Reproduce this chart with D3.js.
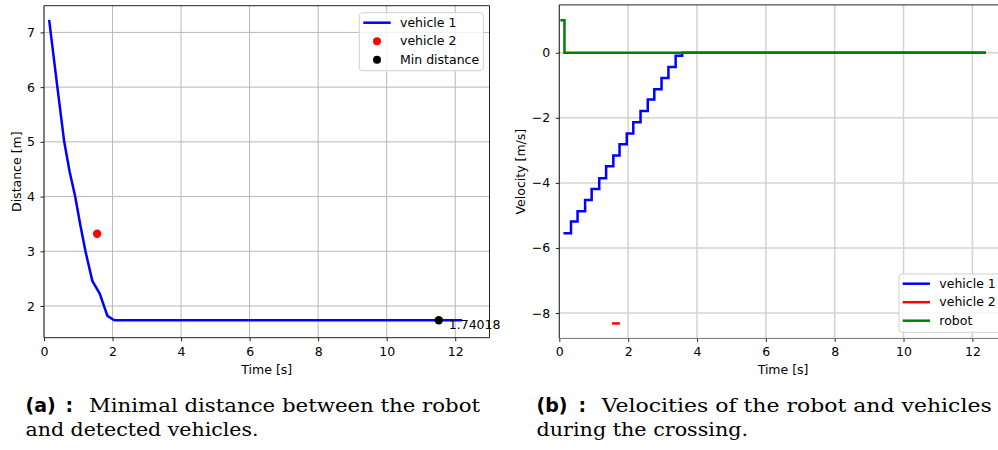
<!DOCTYPE html>
<html>
<head>
<meta charset="utf-8">
<script src="https://cdn.jsdelivr.net/npm/d3@7"></script>
<style>
  body { margin: 0; background: #fff; }
  svg { display: block; font-family: "DejaVu Sans", sans-serif; }
  text { fill: #000; }
</style>
</head>
<body>
<svg id="fig" width="998" height="450"></svg>
<script>
// ---- Panel (a): distance between the robot and detected vehicles ----
const distTime   = [0.15, 0.39, 0.59, 0.75, 0.91, 1.06, 1.21, 1.41, 1.63, 1.85, 2.05, 12.2];
const distMeters = [7.23, 6.00, 5.00, 4.45, 4.00, 3.48, 3.00, 2.46, 2.22, 1.82, 1.74, 1.74];
const vehicle2Point = [1.55, 3.32];          // [time s, distance m]
const minDistPoint  = [11.52, 1.74018];      // [time s, distance m]
const distXTicks = [0, 2, 4, 6, 8, 10, 12];
const distYTicks = [2, 3, 4, 5, 6, 7];
const distLegend = ["vehicle 1", "vehicle 2", "Min distance"];

// ---- Panel (b): velocities during the crossing ----
const v1Time  = [0.12, 0.34, 0.53, 0.75, 0.94, 1.16, 1.36, 1.57, 1.75, 1.96, 2.15, 2.36, 2.57, 2.76, 2.97, 3.17, 3.38, 3.57, 12.39];
const v1Speed = [-5.55, -5.19, -4.87, -4.53, -4.19, -3.86, -3.49, -3.16, -2.81, -2.48, -2.14, -1.79, -1.44, -1.12, -0.78, -0.44, -0.09, 0, 0];
const v2Time  = [1.53, 1.76];
const v2Speed = [-8.32, -8.32];
const robotTime  = [0.03, 0.15, 12.39];
const robotSpeed = [1.0, 0, 0];
const velXTicks = [0, 2, 4, 6, 8, 10, 12];
const velYTicks = [-8, -6, -4, -2, 0];
const velLegend = ["vehicle 1", "vehicle 2", "robot"];

const BLUE = "#0000ff", RED = "#ff0000", GREEN = "#008000";
const FS = 12.5;

const svg = d3.select("#fig");

function pairs(xs, ys) { return xs.map((t, i) => [t, ys[i]]); }

function drawFrame(g, x, y, xt, yt, cfg) {
  const [x0, x1] = x.range();
  const [yb, yt0] = y.range();
  // grid
  g.append("g").selectAll("line").data(xt).join("line")
    .attr("x1", d => x(d)).attr("x2", d => x(d))
    .attr("y1", yb).attr("y2", yt0)
    .attr("stroke", cfg.grid).attr("stroke-width", cfg.gridW);
  g.append("g").selectAll("line").data(yt).join("line")
    .attr("x1", x0).attr("x2", x1)
    .attr("y1", d => y(d)).attr("y2", d => y(d))
    .attr("stroke", cfg.grid).attr("stroke-width", cfg.gridW);

  const fmt = d3.format("d");
  const xa = g.append("g").attr("transform", `translate(0,${yb})`)
    .call(d3.axisBottom(x).tickValues(xt).tickFormat(fmt).tickSize(3.5).tickPadding(5.5));
  const ya = g.append("g").attr("transform", `translate(${x0},0)`)
    .call(d3.axisLeft(y).tickValues(yt).tickFormat(fmt).tickSize(3.5).tickPadding(5.5));
  [xa, ya].forEach(a => {
    a.attr("font-family", null).attr("font-size", null);
    a.select(".domain").remove();
    a.selectAll(".tick line").attr("stroke", "#222").attr("stroke-width", 1);
    a.selectAll(".tick text").attr("font-size", FS).attr("fill", "#000");
  });

  // spines
  g.append("line").attr("x1", x0).attr("x2", x0).attr("y1", yb).attr("y2", yt0).attr("stroke", "#222");
  g.append("line").attr("x1", x0).attr("x2", x1).attr("y1", yt0).attr("y2", yt0).attr("stroke", "#222");
  g.append("line").attr("x1", x0).attr("x2", x1).attr("y1", yb).attr("y2", yb).attr("stroke", cfg.bottomSpine);
  g.append("line").attr("x1", x1).attr("x2", x1).attr("y1", yb).attr("y2", yt0).attr("stroke", "#222");

  // axis labels
  g.append("text").attr("x", (x0 + x1) / 2).attr("y", 373.5)
    .attr("text-anchor", "middle").attr("font-size", FS).text(cfg.xLabel);
  g.append("text").attr("transform", `translate(${cfg.yLabelX},${(yb + yt0) / 2}) rotate(-90)`)
    .attr("text-anchor", "middle").attr("font-size", FS).text(cfg.yLabel);
}

function drawLegend(g, box, items) {
  g.append("rect").attr("x", box.x).attr("y", box.y).attr("width", box.w).attr("height", box.h)
    .attr("rx", 3).attr("fill", "#fff").attr("fill-opacity", 0.8)
    .attr("stroke", "#d0d0d0").attr("stroke-width", 1);
  const rows = g.append("g").selectAll("g").data(items).join("g")
    .attr("transform", (d, i) => `translate(0,${box.firstRow + i * box.step})`);
  rows.each(function (d) {
    const r = d3.select(this);
    if (d.kind === "line") {
      r.append("line").attr("x1", box.hx0).attr("x2", box.hx1).attr("y1", 0).attr("y2", 0)
        .attr("stroke", d.color).attr("stroke-width", 2.5);
    } else {
      r.append("circle").attr("cx", (box.hx0 + box.hx1) / 2).attr("cy", 0).attr("r", 4)
        .attr("fill", d.color);
    }
    r.append("text").attr("x", box.tx).attr("y", 0).attr("dy", "0.34em")
      .attr("font-size", FS).text(d.label);
  });
}

// ---------- Panel (a) ----------
{
  const g = svg.append("g");
  const x = d3.scaleLinear().domain([0, 13]).range([44, 489.5]);
  const y = d3.scaleLinear().domain([1.421, 7.488]).range([337.7, 5.7]);
  drawFrame(g, x, y, distXTicks, distYTicks, {
    grid: "#b8b8b8", gridW: 1, bottomSpine: "#222",
    xLabel: "Time [s]", yLabel: "Distance [m]", yLabelX: 21
  });

  const line = d3.line().x(d => x(d[0])).y(d => y(d[1]));
  g.append("path").datum(pairs(distTime, distMeters)).attr("d", line)
    .attr("fill", "none").attr("stroke", BLUE).attr("stroke-width", 2.5).attr("stroke-linejoin", "round");
  g.append("circle").attr("cx", x(vehicle2Point[0])).attr("cy", y(vehicle2Point[1])).attr("r", 4.2).attr("fill", RED);
  g.append("circle").attr("cx", x(minDistPoint[0])).attr("cy", y(minDistPoint[1])).attr("r", 4.2).attr("fill", "#000");
  g.append("text").attr("x", x(minDistPoint[0]) + 10).attr("y", y(minDistPoint[1]) + 9)
    .attr("font-size", FS).text(d3.format(".5f")(minDistPoint[1]));

  drawLegend(g, { x: 359.3, y: 12.7, w: 124, h: 58, firstRow: 22.7, step: 18.5, hx0: 363.3, hx1: 390.7, tx: 400 }, [
    { kind: "line", color: BLUE, label: distLegend[0] },
    { kind: "dot", color: RED, label: distLegend[1] },
    { kind: "dot", color: "#000", label: distLegend[2] }
  ]);
}

// ---------- Panel (b) ----------
{
  const g = svg.append("g");
  const x = d3.scaleLinear().domain([0, 13]).range([559.3, 1006.8]);
  const y = d3.scaleLinear().domain([-8.78, 1.47]).range([338.4, 4.9]);
  drawFrame(g, x, y, velXTicks, velYTicks, {
    grid: "#d3d3d3", gridW: 1.5, bottomSpine: "#707070",
    xLabel: "Time [s]", yLabel: "Velocity [m/s]", yLabelX: 524.5
  });

  const step = d3.line().x(d => x(d[0])).y(d => y(d[1])).curve(d3.curveStepAfter);
  g.append("path").datum(pairs(v1Time, v1Speed)).attr("d", step)
    .attr("fill", "none").attr("stroke", BLUE).attr("stroke-width", 2.5);
  g.append("path").datum(pairs(v2Time, v2Speed)).attr("d", step)
    .attr("fill", "none").attr("stroke", RED).attr("stroke-width", 2.5);
  g.append("path").datum(pairs(robotTime, robotSpeed)).attr("d", step)
    .attr("fill", "none").attr("stroke", GREEN).attr("stroke-width", 2.5);

  drawLegend(g, { x: 899, y: 274, w: 110, h: 58.3, firstRow: 283.7, step: 18.5, hx0: 902.7, hx1: 930, tx: 939.3 }, [
    { kind: "line", color: BLUE, label: velLegend[0] },
    { kind: "line", color: RED, label: velLegend[1] },
    { kind: "line", color: GREEN, label: velLegend[2] }
  ]);
}

// ---------- Sub-captions ----------
const captions = [
  { tag: "(a)", tagX: 25.5, colonX: 65.5, first: "Minimal distance between the robot", firstX: 89, firstW: 391,
    second: "and detected vehicles.", secondW: 233 },
  { tag: "(b)", tagX: 536.5, colonX: 578.5, first: "Velocities of the robot and vehicles", firstX: 601.7, firstW: 390,
    second: "during the crossing.", secondW: 211.6 }
];
captions.forEach(c => {
  const g = svg.append("g");
  g.append("text").attr("x", c.tagX).attr("y", 412).attr("font-size", 19).attr("font-weight", "bold").text(c.tag);
  g.append("text").attr("x", c.colonX).attr("y", 412).attr("font-size", 19).attr("font-weight", "bold").text(":");
  g.append("text").attr("x", c.firstX).attr("y", 412).style("font-family", "'DejaVu Serif', serif").attr("font-size", 18)
    .attr("textLength", c.firstW).attr("lengthAdjust", "spacingAndGlyphs").text(c.first);
  g.append("text").attr("x", c.tagX).attr("y", 435.5).style("font-family", "'DejaVu Serif', serif").attr("font-size", 18)
    .attr("textLength", c.secondW).attr("lengthAdjust", "spacingAndGlyphs").text(c.second);
});
</script>
</body>
</html>
